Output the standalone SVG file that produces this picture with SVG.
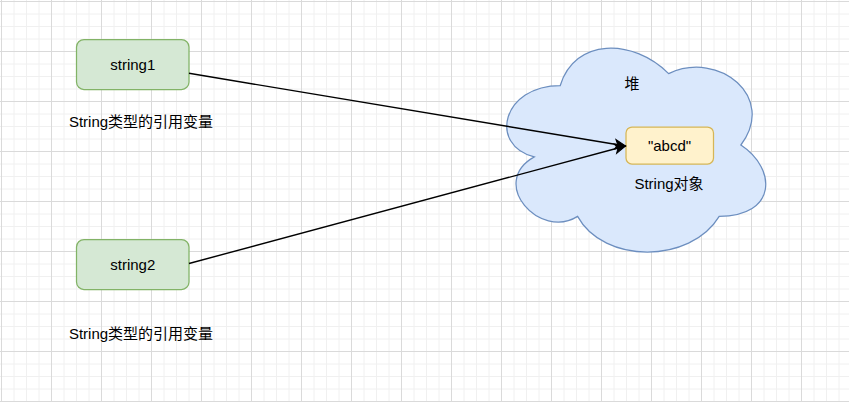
<svg xmlns="http://www.w3.org/2000/svg" width="849" height="402" viewBox="0 0 849 402">
  <style>
    text { font-family: "Liberation Sans", "Noto Sans CJK SC", sans-serif; font-size: 15px; fill: #000; text-anchor: middle; dominant-baseline: central; }
    .var { fill: #d5e8d4; stroke: #82b366; stroke-width: 1.25; }
    .obj { fill: #fff2cc; stroke: #d6b656; stroke-width: 1.25; }
    .heap { fill: #dae8fc; stroke: #6c8ebf; stroke-width: 1.25; }
    .edge { fill: none; stroke: #000; stroke-width: 1.4; marker-end: url(#arrow); }
  </style>
  <defs>
    <pattern id="grid" x="1" y="1" width="50" height="50" patternUnits="userSpaceOnUse">
      <path d="M13 0V50M25.5 0V50M38 0V50M0 13H50M0 25.5H50M0 38H50" stroke="#f0f0f0" stroke-width="1" fill="none"/>
      <path d="M0.5 0V50M0 0.5H50" stroke="#dadada" stroke-width="1" fill="none"/>
    </pattern>
    <marker id="arrow" markerUnits="userSpaceOnUse" markerWidth="14" markerHeight="12" viewBox="-12 -6 14 12" refX="0" refY="0" orient="auto">
      <path d="M0 0L-10.5 -4.8L-7.8 0L-10.5 4.8Z" fill="#000" stroke="#000" stroke-width="1"/>
    </marker>
  </defs>

  <rect width="849" height="402" fill="#fff"/>
  <rect width="849" height="402" fill="url(#grid)"/>

  <g id="heap">
    <path class="heap" d="M560.25 85.5C502.45 85.5 488 145 534.24 156.9C488 183.08 540.02 240.2 577.59 216.4C603.6 264 690.3 264 719.2 216.4C777 216.4 777 168.8 740.88 145C777 97.4 719.2 49.8 668.63 73.6C632.5 37.9 574.7 37.9 560.25 85.5Z"/>
    <text x="632" y="83">堆</text>
  </g>

  <g id="string-object">
    <rect class="obj" x="626" y="127" width="87.5" height="37" rx="6"/>
    <text x="669.5" y="145.5">"abcd"</text>
    <text x="669" y="183">String对象</text>
  </g>

  <g id="string1">
    <rect class="var" x="76.5" y="39.5" width="112.5" height="50" rx="7.5"/>
    <text x="132.75" y="64.5">string1</text>
  </g>
  <text id="string1-label" x="141" y="121">String类型的引用变量</text>

  <g id="string2">
    <rect class="var" x="76.5" y="239.5" width="112.5" height="50" rx="7.5"/>
    <text x="132.75" y="264.5">string2</text>
  </g>
  <text id="string2-label" x="141" y="333">String类型的引用变量</text>

  <g id="connectors">
    <path class="edge" d="M189 73.3L625.5 146"/>
    <path class="edge" d="M189 263.5L625.5 146"/>
  </g>
</svg>
